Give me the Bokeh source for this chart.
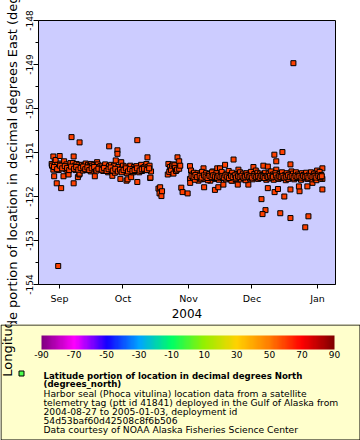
import numpy as np
import pandas as pd
from bokeh.plotting import figure
from bokeh.layouts import column
from bokeh.models import (Range1d, FixedTicker, DatetimeTickFormatter, Label, BoxAnnotation,
                          ColorBar, LinearColorMapper, ColumnDataSource, PrintfTickFormatter)
from bokeh.core.properties import value
from bokeh.embed import file_html
from bokeh.resources import INLINE

# ---------------- data ----------------
t0 = "2004-08-27"            # deployment start; day = days since t0
day = [
    # early September
    1.3, 1.5, 2.1, 2.1, 2.5, 2.8, 3.2, 3.5, 3.7, 4.0, 4.4, 4.6, 5.1, 5.5, 5.8, 6.1, 6.5, 6.9,
    7.2, 7.8, 8.3, 8.8, 9.3, 9.8, 10.2, 10.7, 10.9, 11.3, 11.7, 11.7, 12.2, 12.6, 13.1, 13.4,
    13.7, 14.0, 14.4, 14.5, 14.5, 14.9, 15.2, 15.6, 16.0, 16.5, 16.9, 17.4, 17.7, 18.0, 18.5,
    18.9, 19.3, 19.8, 20.0, 20.4, 20.9, 21.2, 21.7, 22.2, 22.8, 23.1, 23.6, 24.0, 24.4,
    # late September - mid October
    24.8, 25.3, 25.7, 26.2, 26.6, 27.1, 27.5, 28.0, 28.4, 28.5, 28.9, 29.4, 29.8, 30.0, 30.4,
    30.8, 31.2, 31.6, 31.8, 32.4, 32.4, 32.8, 33.3, 33.8, 34.2, 34.6, 35.0, 35.5, 36.0, 36.3,
    36.7, 36.8, 37.2, 37.6, 38.0, 38.5, 38.9, 39.3, 39.8, 40.3, 40.6, 41.0, 41.4, 41.8, 41.8,
    42.2, 42.7, 43.2, 43.6, 44.0, 44.5, 44.9, 45.2, 45.7, 46.1, 46.6, 46.7, 47.2, 47.6, 47.9,
    48.0, 48.3,
    # mid - late October
    51.8, 52.3, 52.6, 53.2, 53.5, 56.2, 56.5, 56.9, 57.2, 57.7, 58.2, 58.9, 58.9, 59.4, 59.7,
    60.1, 60.6, 60.8, 61.6, 61.6, 62.1, 62.6, 63.2, 65.6,
    # November - January (scattered fixes)
    66.7, 67.2, 66.7, 66.8, 69.4, 70.7, 73.1, 73.9, 73.4, 75.4, 77.5, 79.6, 78.8, 78.5, 80.1,
    76.3, 83.3, 80.9, 82.5, 87.3, 89.6, 86.8, 89.3, 96.7, 101.4, 103.5, 97.8, 94.3, 106.6,
    110.4, 107.5, 114.2, 107.5, 114.7, 100.5, 102.4, 101.0, 109.4, 114.2, 122.7, 121.2, 111.3,
    106.7, 103.5, 114.2, 118.5, 129.3, 129.3, 126.8, 129.3, 124.6, 122.2, 118.2, 108.3, 115.6,
    # November - January (main track)
    67.7, 68.1, 68.6, 69.0, 69.8, 70.3, 71.1, 71.5, 72.0, 72.4, 72.7, 73.5, 74.3, 74.8, 75.1,
    75.8, 76.7, 77.1, 77.9, 78.3, 79.2, 79.9, 80.4, 81.3, 81.7, 82.1, 82.9, 83.7, 84.1, 84.5,
    85.0, 85.4, 85.8, 86.3, 86.6, 87.7, 88.2, 88.7, 89.0, 90.0, 90.4, 90.8, 91.3, 91.7, 92.1,
    92.6, 93.0, 93.4, 93.9, 94.7, 95.1, 95.5, 96.0, 96.3, 97.1, 97.4, 98.2, 98.6, 99.0, 99.5,
    99.9, 100.3, 100.8, 101.8, 102.2, 102.8, 103.2, 103.9, 104.3, 104.7, 105.1, 105.5, 105.9,
    106.3, 107.1, 107.9, 108.6, 109.0, 109.8, 110.2, 110.8, 111.6, 112.0, 112.4, 112.8, 113.2,
    113.6, 115.0, 115.4, 116.0, 116.4, 116.8, 117.2, 117.7, 118.8, 119.2, 119.6, 120.0, 120.4,
    120.9, 121.6, 122.0, 122.4, 123.1, 123.5, 123.9, 124.3, 125.0, 125.4, 125.8, 126.2, 126.5,
    127.2, 127.6, 128.0, 128.4, 128.8,
    # dense core of the track, September - October
    2.4, 3.9, 5.3, 6.3, 7.5, 8.6, 9.6, 10.5, 11.9, 12.9, 13.9, 15.0, 16.2, 17.2, 18.2, 19.1,
    20.2, 21.4, 22.5, 23.4, 25.0, 26.0, 27.3, 28.2, 29.2, 30.2, 31.4, 32.6, 33.6, 34.4, 35.3,
    36.4, 37.4, 38.3, 39.5, 40.5, 41.6, 42.9, 43.9, 45.0, 46.3, 47.4,
    # dense core of the track, November - January
    67.4, 68.4, 69.3, 70.1, 71.3, 72.2, 73.3, 74.1, 75.0, 75.9, 76.9, 77.7, 78.6, 79.5, 80.2,
    81.1, 82.0, 82.7, 83.5, 84.3, 85.2, 86.1, 86.9, 87.9, 88.5, 89.4, 90.2, 91.1, 92.0, 92.8,
    93.7, 94.5, 95.3, 96.1, 97.2, 98.0, 98.8, 99.7, 100.5, 101.3, 102.0, 103.0, 103.7, 104.5,
    105.3, 106.0, 107.3, 108.1, 108.9, 109.6, 110.5, 111.3, 112.2, 113.0, 113.9, 114.8, 115.7,
    116.6, 117.5, 118.4, 119.4, 120.2, 121.0, 121.9, 122.7, 123.7, 124.6, 125.6, 126.4, 127.4,
    128.2, 129.0,
]
lon = [
    -151.26, -151.30, -151.09, -151.39, -151.54, -151.22, -151.17, -151.35, -151.70, -151.28,
    -153.58, -151.40, -151.08, -151.25, -151.81, -151.28, -151.33, -151.54, -151.20, -151.38,
    -151.27, -151.42, -151.50, -151.31, -151.24, -150.65, -151.36, -151.24, -151.09, -151.70,
    -151.30, -151.40, -151.26, -151.34, -151.56, -151.29, -151.50, -150.77, -151.48, -151.38,
    -151.33, -151.28, -151.41, -151.30, -151.36, -151.25, -151.40, -151.33, -151.28, -151.37,
    -151.31, -151.43, -151.26, -151.30, -151.35, -151.29, -151.54, -151.38, -151.22, -151.27,
    -151.33, -151.40, -151.31,
    -151.36, -151.30, -151.42, -151.33, -151.27, -151.40, -151.35, -151.45, -151.31, -150.86,
    -151.38, -151.28, -151.43, -151.53, -151.35, -151.30, -151.46, -151.18, -151.38, -150.95,
    -151.03, -151.33, -151.41, -151.60, -151.22, -151.36, -151.30, -151.44, -151.38, -151.32,
    -151.64, -151.47, -151.61, -151.36, -151.41, -151.30, -151.56, -151.39, -151.45, -151.33,
    -151.37, -151.42, -151.31, -150.72, -151.67, -151.39, -151.45, -151.36, -151.28, -151.42,
    -151.35, -151.40, -151.33, -151.38, -151.26, -151.11, -151.33, -151.40, -151.30, -151.58,
    -151.57, -151.43,
    -151.82, -151.93, -151.79, -151.99, -151.88, -151.50, -151.26, -151.44, -151.33, -151.40,
    -151.30, -151.27, -151.48, -151.29, -151.35, -151.42, -151.39, -151.11, -151.20, -151.37,
    -151.30, -151.80, -151.90, -151.93,
    -151.31, -151.41, -151.60, -151.69, -151.56, -151.64, -151.36, -151.52, -151.79, -151.56,
    -151.43, -151.36, -151.60, -151.85, -151.79, -151.64, -151.28, -151.36, -151.73, -151.16,
    -151.39, -151.64, -151.73, -151.33, -151.30, -151.32, -151.41, -151.73, -151.05, -150.99,
    -151.20, -151.27, -151.39, -151.43, -152.06, -152.31, -152.40, -152.38, -152.49, -152.45,
    -152.70, -152.00, -151.90, -151.81, -151.84, -151.88, -151.84, -151.36, -151.41, -151.60,
    -151.69, -151.77, -151.77, -151.83, -148.97,
    -151.50, -151.58, -151.46, -151.62, -151.53, -151.47, -151.57, -151.50, -151.61, -151.44,
    -151.55, -151.60, -151.47, -151.54, -151.63, -151.49, -151.56, -151.45, -151.58, -151.52,
    -151.47, -151.56, -151.62, -151.50, -151.44, -151.58, -151.53, -151.61, -151.48, -151.55,
    -151.42, -151.59, -151.51, -151.64, -151.46, -151.54, -151.60, -151.49, -151.56, -151.52,
    -151.45, -151.61, -151.55, -151.48, -151.58, -151.52, -151.63, -151.47, -151.56, -151.50,
    -151.59, -151.44, -151.54, -151.61, -151.49, -151.57, -151.52, -151.46, -151.60, -151.54,
    -151.48, -151.58, -151.51, -151.57, -151.46, -151.62, -151.53, -151.48, -151.59, -151.52,
    -151.43, -151.57, -151.50, -151.62, -151.47, -151.55, -151.60, -151.49, -151.56, -151.45,
    -151.58, -151.51, -151.63, -151.47, -151.55, -151.60, -151.50, -151.57, -151.48, -151.61,
    -151.53, -151.45, -151.58, -151.50, -151.55, -151.62, -151.47, -151.56, -151.51, -151.59,
    -151.46, -151.54, -151.60, -151.50, -151.57, -151.45, -151.61, -151.53, -151.48, -151.58,
    -151.52, -151.63, -151.49, -151.56, -151.44, -151.59, -151.51,
    -151.33, -151.38, -151.30, -151.36, -151.31, -151.35, -151.40, -151.32, -151.37, -151.33,
    -151.39, -151.35, -151.32, -151.38, -151.34, -151.40, -151.36, -151.33, -151.41, -151.37,
    -151.39, -151.35, -151.42, -151.38, -151.34, -151.41, -151.37, -151.43, -151.39, -151.45,
    -151.40, -151.36, -151.43, -151.38, -151.42, -151.40, -151.36, -151.41, -151.38, -151.37,
    -151.40, -151.36,
    -151.53, -151.55, -151.51, -151.56, -151.53, -151.57, -151.52, -151.55, -151.58, -151.53,
    -151.56, -151.52, -151.55, -151.57, -151.53, -151.56, -151.54, -151.57, -151.52, -151.55,
    -151.58, -151.53, -151.56, -151.52, -151.57, -151.54, -151.56, -151.53, -151.57, -151.55,
    -151.52, -151.56, -151.54, -151.57, -151.53, -151.56, -151.54, -151.57, -151.53, -151.55,
    -151.58, -151.54, -151.56, -151.53, -151.57, -151.55, -151.52, -151.57, -151.54, -151.56,
    -151.53, -151.57, -151.55, -151.52, -151.56, -151.54, -151.57, -151.53, -151.56, -151.54,
    -151.57, -151.53, -151.56, -151.54, -151.57, -151.53, -151.56, -151.54, -151.57, -151.53,
    -151.56, -151.54,
]

y_ticks = [-154, -153, -152, -151, -150, -149, -148]
y_minor = [-153.5, -152.5, -151.5, -150.5, -149.5, -148.5]
x_ticks = ["2004-09-01", "2004-10-01", "2004-11-01", "2004-12-01", "2005-01-01"]
x_start, x_end = "2004-08-22 02:00", "2005-01-09 12:00"
x_label = "2004"
y_label = "Longitude portion of location in decimal degrees East (degrees_east)"

cb_ticks = [-90, -70, -50, -30, -10, 10, 30, 50, 70, 90]
cb_low, cb_high = -90, 90
cb_stops = [-90, -70, -50, -30, -10, 10, 30, 50, 70, 90]
cb_colors = [(128, 0, 128), (255, 0, 255), (20, 0, 255), (0, 165, 255), (0, 255, 100),
             (150, 240, 0), (255, 210, 0), (255, 125, 0), (255, 0, 0), (128, 0, 0)]

legend_title = ["Latitude portion of location in decimal degrees North", "(degrees_north)"]
legend_body = ["Harbor seal (Phoca vitulina) location data from a satellite",
               "telemetry tag (ptt id 41841) deployed in the Gulf of Alaska from",
               "2004-08-27 to 2005-01-03, deployment id",
               "54d53baf60d42508c8f6b506",
               "Data courtesy of NOAA Alaska Fisheries Science Center"]

FONT = "DejaVu Sans"

# ---------------- main plot ----------------
t = pd.Timestamp(t0) + pd.to_timedelta(day, unit="D")
src = ColumnDataSource(dict(t=t, lon=lon))

W, H1, H2 = 360, 324, 116
p1 = figure(width=W, height=H1, x_axis_type="datetime",
            x_range=Range1d(pd.Timestamp(x_start), pd.Timestamp(x_end)),
            y_range=Range1d(-154, -148),
            output_backend="svg", toolbar_location=None,
            min_border_left=38, min_border_right=25, min_border_top=20, min_border_bottom=40)
p1.background_fill_color = "#ccccff"
p1.border_fill_color = "white"
p1.outline_line_color = "black"
p1.outline_line_alpha = 1
p1.xgrid.visible = False
p1.ygrid.visible = False

p1.scatter("t", "lon", source=src, marker="square", size=5,
           fill_color="#ff4000", line_color="black", line_width=1)

ya = p1.yaxis[0]
ya.ticker = FixedTicker(ticks=y_ticks, minor_ticks=y_minor)
ya.formatter = PrintfTickFormatter(format="%d")
ya.major_label_orientation = "vertical"
ya.major_tick_in = 0
ya.major_tick_out = 5
ya.minor_tick_in = 0
ya.minor_tick_out = 3
ya.major_label_standoff = 1
ya.major_label_text_font = FONT
ya.major_label_text_font_size = "9px"
ya.major_label_text_color = "black"
ya.axis_line_color = "black"
ya.major_tick_line_color = "black"
ya.minor_tick_line_color = "black"
ya.axis_label = y_label
ya.axis_label_text_font = FONT
ya.axis_label_text_font_size = "13px"
ya.axis_label_text_font_style = "normal"
ya.axis_label_text_color = "black"
ya.axis_label_standoff = 3

xa = p1.xaxis[0]
xa.ticker = FixedTicker(ticks=[pd.Timestamp(s).value / 1e6 for s in x_ticks], minor_ticks=[])
xa.formatter = DatetimeTickFormatter(days="%b", months="%b", years="%b")
xa.major_tick_in = 0
xa.major_tick_out = 4
xa.major_label_standoff = 4
xa.major_label_text_font = FONT
xa.major_label_text_font_size = "9.5px"
xa.major_label_text_color = "black"
xa.axis_line_color = "black"
xa.major_tick_line_color = "black"
xa.axis_label = x_label
xa.axis_label_text_font = FONT
xa.axis_label_text_font_size = "12px"
xa.axis_label_text_font_style = "normal"
xa.axis_label_text_color = "black"
xa.axis_label_standoff = 2

# ---------------- legend panel ----------------
p2 = figure(width=W, height=H2, x_range=Range1d(0, W), y_range=Range1d(H2, 0),
            output_backend="svg", toolbar_location=None, min_border=0,
            x_axis_location=None, y_axis_location=None)
for p in (p1, p2):
    try:
        p.frame_align = False
    except Exception:
        pass
p2.background_fill_color = "#ffffcc"
p2.border_fill_color = "#ffffcc"
p2.outline_line_color = None
p2.xgrid.visible = False
p2.ygrid.visible = False

p2.add_layout(BoxAnnotation(left=0.5, right=W - 0.5, top=0.5, bottom=H2 - 0.5,
                            fill_alpha=0, line_color="black", line_alpha=1, line_width=1))

pos = np.linspace(cb_low, cb_high, 256)
rgb = np.array(cb_colors, dtype=float)
palette = ["#%02x%02x%02x" % tuple(int(round(np.interp(v, cb_stops, rgb[:, k]))) for k in range(3))
           for v in pos]
mapper = LinearColorMapper(palette=palette, low=cb_low, high=cb_high)
cb = ColorBar(color_mapper=mapper, orientation="horizontal", location=(41, 80),
              width=293, height=14, padding=0, margin=0,
              ticker=FixedTicker(ticks=cb_ticks),
              formatter=PrintfTickFormatter(format="%d"),
              major_label_text_font=FONT, major_label_text_font_size="9px",
              major_label_text_color="black",
              major_tick_in=0, major_tick_out=0, major_tick_line_color=None,
              label_standoff=1, bar_line_color=None,
              background_fill_color=None, border_line_color=None)
p2.add_layout(cb)

p2.scatter([21], [49], marker="square", size=5, fill_color="#4cff4c", line_color="black")
p2.text(x=[43, 43], y=[51, 59], text=legend_title, text_font=value(FONT),
        text_font_style="bold", text_font_size=value("8.6px"), text_color="black",
        text_baseline="alphabetic")
p2.text(x=[43] * 5, y=[69, 78, 87, 96, 105], text=legend_body, text_font=value(FONT),
        text_font_size=value("9.2px"), text_color="black", text_baseline="alphabetic")

# continuation of the y-axis title where it runs down over the legend box
p2.add_layout(Label(x=7, y=H2 + H1 - 152, x_units="screen", y_units="screen", text=y_label,
                    angle=90, angle_units="deg", text_align="center", text_baseline="alphabetic",
                    text_font=FONT, text_font_size="13px", text_color="black"))

layout = column(p1, p2)
open("out.html", "w").write(file_html(layout, INLINE))
